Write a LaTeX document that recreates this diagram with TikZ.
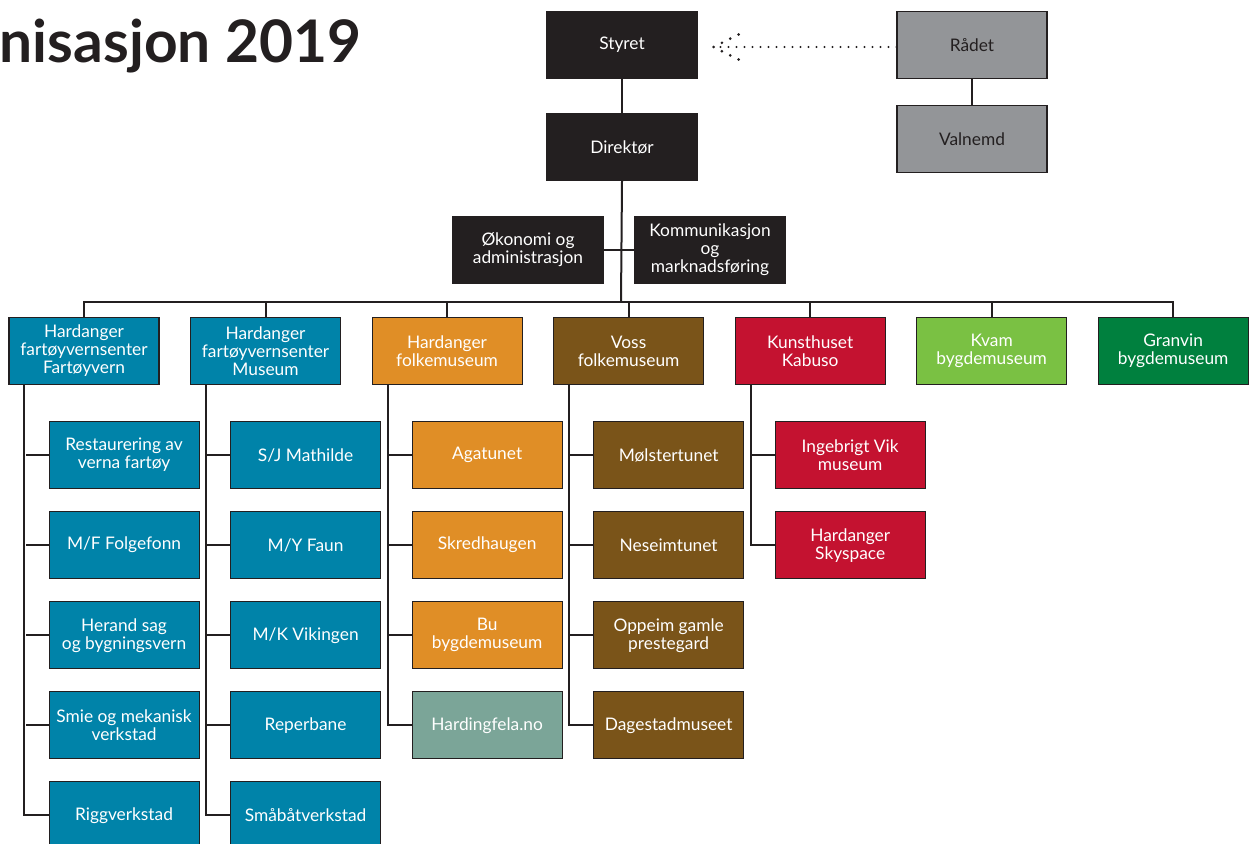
\documentclass[tikz,border=0pt]{standalone}
\usepackage{fontspec}
\setmainfont{Lato}
\usetikzlibrary{positioning}

\definecolor{boxblack}{HTML}{231F20}
\definecolor{raadgrey}{HTML}{939598}
\definecolor{fartoyblue}{HTML}{0083A9}
\definecolor{folkorange}{HTML}{E08E26}
\definecolor{vossbrown}{HTML}{7A5419}
\definecolor{kabusored}{HTML}{C41230}
\definecolor{kvamgreen}{HTML}{7AC143}
\definecolor{granvingreen}{HTML}{00803E}
\definecolor{felagrey}{HTML}{7BA598}

\begin{document}
\begin{tikzpicture}[x=0.75pt, y=-0.75pt, node distance=22.85pt,
    unit/.style={draw=boxblack, line width=0.8pt, fill=#1, text=white,
        minimum width=112.5pt, minimum height=50.25pt, inner sep=1pt,
        align=center, font=\fontsize{13}{13.5}\selectfont},
    grey unit/.style={unit=raadgrey, text=boxblack},
    first sub/.style={below right=27pt and -83.25pt of #1},
    next sub/.style={below=16.5pt of #1},
    link/.style={draw=boxblack, line width=1.5pt},
    dotline/.style={draw=boxblack, line width=1.8pt, line cap=round, dash pattern=on 0pt off 6pt}]

    \useasboundingbox (0,0) rectangle (1257,843);
    \clip (0,0) rectangle (1257,843);

    \node[anchor=base west, text=boxblack, font=\fontsize{44}{50}\selectfont\bfseries] (title) at (-5,62) {nisasjon 2019};

    % leiing
    \node[unit=boxblack]   (styret)        at (622,45)  {Styret};
    \node[unit=boxblack]   (direktor)      at (622,147) {Direktør};
    \node[grey unit]       (raadet)        at (972,45)  {Rådet};
    \node[grey unit]       (valnemd)       at (972,139) {Valnemd};
    \node[unit=boxblack]   (okonomi)       at (528,250) {Økonomi og\\administrasjon};
    \node[unit=boxblack]   (kommunikasjon) at (710,250) {Kommunikasjon\\og\\marknadsføring};
    \coordinate            (tip)           at ([xshift=12pt,yshift=-1.5pt]styret.east);
    \coordinate            (bus)           at (621,302);

    % avdelingar
    \node[unit=fartoyblue]                        (fartoyvern) at (84,351) {Hardanger\\fartøyvernsenter\\Fartøyvern};
    \node[unit=fartoyblue,   right=of fartoyvern] (museum)     {Hardanger\\fartøyvernsenter\\Museum};
    \node[unit=folkorange,   right=of museum]     (hfolk)      {Hardanger\\folkemuseum};
    \node[unit=vossbrown,    right=of hfolk]      (voss)       {Voss\\folkemuseum};
    \node[unit=kabusored,    right=of voss]       (kabuso)     {Kunsthuset\\Kabuso};
    \node[unit=kvamgreen,    right=of kabuso]     (kvam)       {Kvam\\bygdemuseum};
    \node[unit=granvingreen, right=of kvam]       (granvin)    {Granvin\\bygdemuseum};

    % einingar
    \node[unit=fartoyblue, first sub=fartoyvern]  (restaurering) {Restaurering av\\verna fartøy};
    \node[unit=fartoyblue, next sub=restaurering] (folgefonn)    {M/F Folgefonn};
    \node[unit=fartoyblue, next sub=folgefonn]    (herand)       {Herand sag\\og bygningsvern};
    \node[unit=fartoyblue, next sub=herand]       (smie)         {Smie og mekanisk\\verkstad};
    \node[unit=fartoyblue, next sub=smie]         (rigg)         {Riggverkstad};

    \node[unit=fartoyblue, first sub=museum]      (mathilde)     {S/J Mathilde};
    \node[unit=fartoyblue, next sub=mathilde]     (faun)         {M/Y Faun};
    \node[unit=fartoyblue, next sub=faun]         (vikingen)     {M/K Vikingen};
    \node[unit=fartoyblue, next sub=vikingen]     (reperbane)    {Reperbane};
    \node[unit=fartoyblue, next sub=reperbane]    (smaabaat)     {Småbåtverkstad};

    \node[unit=folkorange, first sub=hfolk]       (agatunet)     {Agatunet};
    \node[unit=folkorange, next sub=agatunet]     (skredhaugen)  {Skredhaugen};
    \node[unit=folkorange, next sub=skredhaugen]  (bu)           {Bu\\bygdemuseum};
    \node[unit=felagrey,   next sub=bu]           (fela)         {Hardingfela.no};

    \node[unit=vossbrown,  first sub=voss]        (molster)      {Mølstertunet};
    \node[unit=vossbrown,  next sub=molster]      (neseim)       {Neseimtunet};
    \node[unit=vossbrown,  next sub=neseim]       (oppeim)       {Oppeim gamle\\prestegard};
    \node[unit=vossbrown,  next sub=oppeim]       (dagestad)     {Dagestadmuseet};

    \node[unit=kabusored,  first sub=kabuso]      (ingebrigt)    {Ingebrigt Vik\\museum};
    \node[unit=kabusored,  next sub=ingebrigt]    (skyspace)     {Hardanger\\Skyspace};

    % linjer
    \draw[link] (styret) -- (direktor);
    \draw[link] (raadet) -- (valnemd);
    \draw[dotline] (raadet.west |- tip) -- (tip);
    \draw[dotline, line width=2.2pt, dash pattern=on 0pt off 7pt] (tip) -- ++(28,-14) (tip) -- ++(28,14);
    \draw[link] (direktor.south) -- (bus);
    \draw[link] (okonomi) -- (kommunikasjon);
    \draw[link] (fartoyvern.north) |- (bus) -| (granvin.north);
    \foreach \dept in {museum, hfolk, voss, kabuso, kvam}
        \draw[link] (\dept.north) -- (\dept.north |- bus);

    \draw[link] ([xshift=12pt]fartoyvern.south west) |- (rigg.west);
    \draw[link] ([xshift=12pt]museum.south west)     |- (smaabaat.west);
    \draw[link] ([xshift=12pt]hfolk.south west)      |- (fela.west);
    \draw[link] ([xshift=12pt]voss.south west)       |- (dagestad.west);
    \draw[link] ([xshift=12pt]kabuso.south west)     |- (skyspace.west);
    \foreach \sub in {restaurering, folgefonn, herand, smie, mathilde, faun, vikingen, reperbane,
                      agatunet, skredhaugen, bu, molster, neseim, oppeim, ingebrigt}
        \draw[link] (\sub.west) -- ++(-17.25pt,0);

\end{tikzpicture}
\end{document}
